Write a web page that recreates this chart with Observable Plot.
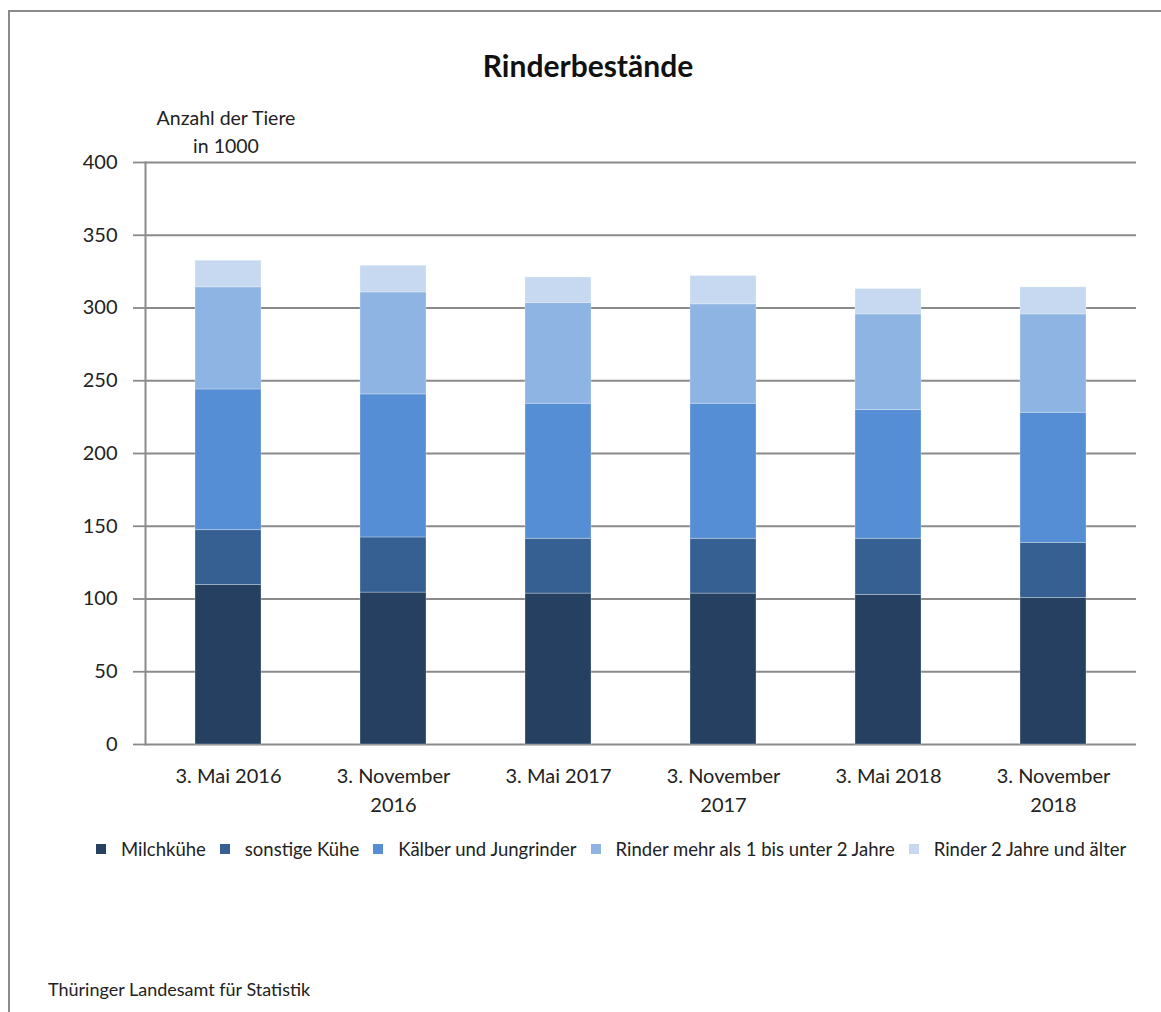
<!DOCTYPE html>
<html>
<head>
<meta charset="utf-8">
<script src="https://cdn.jsdelivr.net/npm/d3@7"></script>
<script src="https://cdn.jsdelivr.net/npm/@observablehq/plot@0.6"></script>
<style>
  html, body { margin: 0; padding: 0; background: #fff; }
  body { width: 1161px; height: 1012px; position: relative; overflow: hidden; font-family: Lato, "Open Sans", sans-serif; color: #222; }
  #frame { position: absolute; left: 8px; top: 10px; width: 1200px; height: 1100px; border-left: 2px solid #8a8a8a; border-top: 2px solid #8a8a8a; }
  #title { position: absolute; left: 0; width: 1176px; top: 47px; text-align: center; font-size: 30px; font-weight: bold; color: #111; }
  #ylabel { position: absolute; left: 126px; width: 200px; top: 104px; text-align: center; font-size: 19.5px; line-height: 28px; color: #222; }
  #chart { position: absolute; left: 0; top: 130px; }
  #legend { position: absolute; left: 96px; top: 838px; display: flex; align-items: center; font-size: 18.5px; color: #222; white-space: nowrap; }
  #legend .item { display: flex; align-items: center; margin-right: 14px; }
  #legend .sw { width: 10px; height: 10px; margin-right: 15px; }
  #footer { position: absolute; left: 48px; top: 978px; font-size: 18px; color: #222; }
</style>
</head>
<body>
<div id="frame"></div>
<div id="title">Rinderbestände</div>
<div id="ylabel">Anzahl der Tiere<br>in 1000</div>
<div id="chart"></div>
<div id="legend"></div>
<div id="footer">Thüringer Landesamt für Statistik</div>
<script>
const categories = ["3. Mai 2016", "3. November 2016", "3. Mai 2017", "3. November 2017", "3. Mai 2018", "3. November 2018"];
const categoryLabels = ["3. Mai 2016", "3. November\n2016", "3. Mai 2017", "3. November\n2017", "3. Mai 2018", "3. November\n2018"];
const seriesNames = ["Milchkühe", "sonstige Kühe", "Kälber und Jungrinder", "Rinder mehr als 1 bis unter 2 Jahre", "Rinder 2 Jahre und älter"];
const milchkuehe = [109.6, 104.4, 103.7, 103.7, 102.8, 100.7];
const sonstigeKuehe = [37.7, 37.9, 37.7, 37.7, 38.6, 37.9];
const kaelber = [96.7, 98.3, 92.8, 92.8, 88.4, 89.4];
const rinder1bis2 = [70.2, 70.1, 69.3, 68.3, 65.8, 67.6];
const rinder2plus = [18.3, 18.3, 17.5, 19.5, 17.5, 18.6];
const colors = ["#264061", "#366092", "#558ED5", "#8EB4E3", "#C6D9F1"];
const yTicks = [0, 50, 100, 150, 200, 250, 300, 350, 400];

const seriesValues = [milchkuehe, sonstigeKuehe, kaelber, rinder1bis2, rinder2plus];
const data = [];
seriesNames.forEach((s, si) => {
  categories.forEach((c, ci) => {
    data.push({category: c, series: s, value: seriesValues[si][ci]});
  });
});

const labelOf = new Map(categories.map((c, i) => [c, categoryLabels[i]]));

const plot = Plot.plot({
  width: 1161,
  height: 700,
  marginLeft: 145,
  marginRight: 25,
  marginTop: 32,
  marginBottom: 86,
  style: {fontFamily: "Lato, 'Open Sans', sans-serif", fontSize: "20px", color: "#222", background: "transparent"},
  x: {domain: categories, paddingInner: 0.6, paddingOuter: 0.3, label: null},
  y: {domain: [0, 400], ticks: yTicks, label: null},
  color: {domain: seriesNames, range: colors},
  marks: [
    Plot.gridY(yTicks, {stroke: "#8a8a8a", strokeOpacity: 1, strokeWidth: 1.8}),
    Plot.barY(data, Plot.stackY({x: "category", y: "value", fill: "series", order: seriesNames, stroke: "#ffffff", strokeOpacity: 0.35, strokeWidth: 0.8})),
    Plot.frame({anchor: "left", stroke: "#8a8a8a", strokeWidth: 2}),
    Plot.axisY(yTicks, {tickSize: 12, tickPadding: 16, stroke: "#8a8a8a", strokeWidth: 1.8, fontSize: 20, fill: "#222", label: null}),
    Plot.axisX({tickSize: 0, tickPadding: 18, fontSize: 20, fill: "#222", lineHeight: 1.45, tickFormat: d => labelOf.get(d), label: null})
  ]
});
document.getElementById("chart").appendChild(plot);

const legend = document.getElementById("legend");
seriesNames.forEach((s, i) => {
  const item = document.createElement("div");
  item.className = "item";
  const sw = document.createElement("span");
  sw.className = "sw";
  sw.style.background = colors[i];
  const t = document.createElement("span");
  t.textContent = s;
  item.appendChild(sw);
  item.appendChild(t);
  legend.appendChild(item);
});
</script>
</body>
</html>
